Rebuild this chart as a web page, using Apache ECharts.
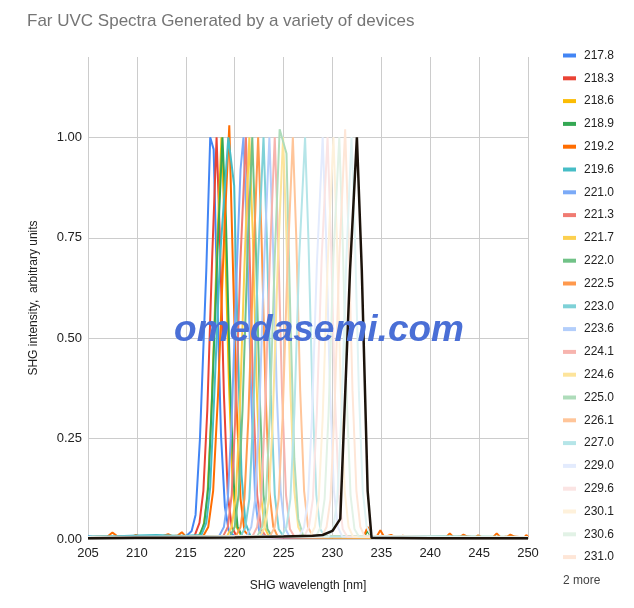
<!DOCTYPE html>
<html>
<head>
<meta charset="utf-8">
<script src="https://cdn.jsdelivr.net/npm/echarts@6/dist/echarts.min.js"></script>
<style>html,body{margin:0;padding:0;background:#fff}#c{width:634px;height:608px}</style>
</head>
<body>
<div id="c"></div>
<script>
var titleText = 'Far UVC Spectra Generated by a variety of devices';
var xName = 'SHG wavelength [nm]';
var yName = 'SHG intensity,  arbitrary units';
var watermark = 'omedasemi.com';
var seriesNames = ['217.8','218.3','218.6','218.9','219.2','219.6','221.0','221.3','221.7','222.0','222.5','223.0','223.6','224.1','224.6','225.0','226.1','227.0','229.0','229.6','230.1','230.6','231.0','231.9','232.5'];
var legendShown = 23;
var palette = ['#4285F4','#EA4335','#FBBC04','#34A853','#FF6D01','#46BDC6','#7BAAF7','#F07B72','#FCD04F','#71C287','#FF994D','#7ED1D7','#B3CEFB','#F7B4AE','#FDE49B','#AEDCBA','#FFC599','#B5E5E8','#E3EBFD','#FBE4E3','#FEF1DB','#E2F2E6','#FEE6D7','#E0F3F4','#1c130b'];

var s217_8 = [[205,0.007],[205.8,0.004],[207,0.005],[209,0.004],[211,0.006],[213,0.005],[215,0.006],[215.6,0.02],[216.0,0.06],[216.45,0.25],[217.1,0.67],[217.5,1.0],[217.85,0.97],[218.2,0.62],[218.6,0.26],[219.0,0.08],[219.4,0.02],[220,0.006],[225,0.004],[230,0.004],[239.3,0.006],[240,0.003],[250,0.003]];
var s218_3 = [[205,0.004],[208,0.005],[211,0.005],[214,0.006],[215.9,0.008],[216.4,0.04],[216.8,0.12],[217.2,0.32],[217.7,0.7],[218.15,1.0],[218.5,0.74],[218.9,0.36],[219.3,0.11],[219.7,0.03],[220.2,0.007],[225,0.004],[235,0.004],[250,0.004]];
var s218_6 = [[205,0.004],[210,0.005],[214,0.005],[216.3,0.007],[216.8,0.03],[217.2,0.1],[217.6,0.3],[218.1,0.66],[218.65,1.0],[219.0,0.76],[219.4,0.4],[219.8,0.13],[220.2,0.03],[220.7,0.006],[230,0.004],[250,0.004]];
var s218_9 = [[205,0.005],[210,0.006],[214,0.006],[216.4,0.008],[216.9,0.04],[217.3,0.13],[217.7,0.36],[218.25,0.72],[218.75,1.0],[219.1,0.8],[219.5,0.42],[219.9,0.14],[220.3,0.03],[220.8,0.006],[233.2,0.005],[233.6,0.02],[234.0,0.004],[250,0.004]];
var s219_2 = [[205,0.005],[207,0.006],[207.5,0.016],[208,0.007],[209.5,0.006],[209.9,0.01],[210.4,0.006],[212.6,0.007],[213.2,0.012],[213.6,0.007],[214.2,0.009],[214.6,0.017],[215.0,0.006],[216.8,0.008],[217.3,0.03],[217.8,0.12],[218.3,0.36],[218.9,0.74],[219.45,1.03],[219.8,0.7],[220.2,0.33],[220.6,0.1],[221.0,0.02],[221.5,0.006],[233.2,0.006],[233.6,0.03],[234.0,0.005],[234.5,0.005],[234.9,0.022],[235.3,0.005],[236.0,0.01],[236.5,0.004],[237.2,0.008],[237.6,0.004],[241.6,0.004],[242.0,0.014],[242.4,0.004],[243.1,0.006],[243.4,0.011],[243.8,0.006],[244.6,0.004],[244.9,0.009],[245.3,0.004],[246.4,0.004],[246.8,0.014],[247.2,0.004],[247.9,0.006],[248.2,0.011],[248.6,0.006],[249.6,0.004],[249.85,0.01],[250,0.005]];
var s219_6 = [[205,0.006],[208,0.007],[210,0.009],[212,0.01],[214,0.008],[215,0.008],[216.6,0.01],[217.1,0.04],[217.5,0.13],[217.9,0.35],[218.5,0.7],[219.35,1.0],[219.95,0.88],[220.3,0.5],[220.7,0.16],[221.1,0.04],[221.6,0.008],[230,0.005],[240,0.005],[250,0.005]];
var s221_0 = [[205,0.005],[212,0.006],[218.4,0.007],[218.9,0.03],[219.3,0.1],[219.7,0.3],[220.2,0.66],[220.6,0.92],[220.9,1.0],[221.3,0.72],[221.7,0.35],[222.1,0.1],[222.5,0.02],[223,0.006],[240,0.006],[250,0.004]];
var s221_3 = [[205,0.004],[218.8,0.006],[219.3,0.03],[219.7,0.11],[220.1,0.32],[220.6,0.7],[221.15,1.0],[221.5,0.74],[221.9,0.36],[222.3,0.11],[222.7,0.025],[223.2,0.006],[250,0.004]];
var s221_7 = [[205,0.004],[219.2,0.006],[219.7,0.03],[220.1,0.1],[220.5,0.3],[221.0,0.68],[221.5,1.0],[221.85,0.76],[222.25,0.38],[222.65,0.12],[223.05,0.03],[223.5,0.006],[250,0.004]];
var s222_0 = [[205,0.005],[219.5,0.006],[220.0,0.03],[220.4,0.11],[220.8,0.32],[221.3,0.7],[221.8,1.0],[222.15,0.74],[222.55,0.36],[222.95,0.11],[223.35,0.025],[223.8,0.006],[250,0.005]];
var s222_5 = [[205,0.004],[220.1,0.006],[220.6,0.03],[221.0,0.1],[221.4,0.3],[221.9,0.68],[222.4,1.0],[222.75,0.75],[223.15,0.37],[223.55,0.12],[223.95,0.03],[224.4,0.006],[250,0.004]];
var s223_0 = [[205,0.005],[220.6,0.006],[221.1,0.03],[221.5,0.1],[221.9,0.31],[222.4,0.7],[222.95,1.0],[223.3,0.74],[223.7,0.36],[224.1,0.11],[224.5,0.025],[225,0.006],[250,0.005]];
var s223_6 = [[205,0.004],[221.2,0.006],[221.7,0.03],[222.1,0.1],[222.5,0.3],[223.0,0.68],[223.55,1.0],[223.9,0.75],[224.3,0.37],[224.7,0.12],[225.1,0.03],[225.6,0.006],[250,0.004]];
var s224_1 = [[205,0.004],[221.8,0.006],[222.3,0.03],[222.7,0.1],[223.1,0.31],[223.6,0.7],[224.1,1.0],[224.45,0.74],[224.85,0.36],[225.25,0.11],[225.65,0.025],[226.1,0.006],[250,0.004]];
var s224_6 = [[205,0.004],[222.6,0.006],[223.1,0.03],[223.5,0.1],[223.9,0.3],[224.4,0.68],[224.95,1.0],[225.3,0.75],[225.7,0.37],[226.1,0.12],[226.5,0.03],[227,0.006],[250,0.004]];
var s225_0 = [[205,0.005],[222.3,0.006],[222.8,0.03],[223.2,0.1],[223.6,0.31],[224.1,0.7],[224.6,1.02],[225.3,0.96],[225.7,0.55],[226.1,0.2],[226.5,0.05],[227,0.008],[250,0.005]];
var s226_1 = [[205,0.004],[223.6,0.006],[224.1,0.03],[224.5,0.1],[224.9,0.3],[225.4,0.68],[225.95,1.0],[226.3,0.75],[226.7,0.37],[227.1,0.12],[227.5,0.03],[228,0.006],[250,0.004]];
var s227_0 = [[205,0.005],[224.8,0.006],[225.3,0.03],[225.7,0.1],[226.1,0.31],[226.6,0.7],[227.2,1.0],[227.55,0.74],[227.95,0.36],[228.35,0.11],[228.75,0.025],[229.2,0.006],[250,0.005]];
var s229_0 = [[205,0.004],[226.6,0.006],[227.1,0.03],[227.5,0.1],[227.9,0.3],[228.4,0.68],[229.0,1.0],[229.35,0.75],[229.75,0.37],[230.15,0.12],[230.55,0.03],[231,0.006],[250,0.004]];
var s229_6 = [[205,0.004],[227.1,0.006],[227.6,0.03],[228.0,0.1],[228.4,0.31],[228.9,0.7],[229.5,1.0],[229.85,0.74],[230.25,0.36],[230.65,0.11],[231.05,0.025],[231.5,0.006],[250,0.004]];
var s230_1 = [[205,0.004],[227.7,0.006],[228.2,0.03],[228.6,0.1],[229.0,0.3],[229.5,0.68],[230.1,1.0],[230.45,0.75],[230.85,0.37],[231.25,0.12],[231.65,0.03],[232.1,0.006],[250,0.004]];
var s230_6 = [[205,0.004],[228.3,0.006],[228.8,0.03],[229.2,0.1],[229.6,0.31],[230.1,0.7],[230.7,1.0],[231.05,0.74],[231.45,0.36],[231.85,0.11],[232.25,0.025],[232.7,0.006],[250,0.004]];
var s231_0 = [[205,0.004],[228.9,0.006],[229.4,0.03],[229.8,0.1],[230.2,0.31],[230.7,0.7],[231.3,1.02],[231.65,0.75],[232.05,0.37],[232.45,0.12],[232.85,0.03],[233.3,0.006],[250,0.004]];
var s231_9 = [[205,0.004],[229.6,0.006],[230.1,0.03],[230.5,0.1],[230.9,0.3],[231.4,0.68],[231.95,1.0],[232.3,0.75],[232.7,0.37],[233.1,0.12],[233.5,0.03],[234,0.006],[250,0.004]];
var s232_5 = [[205,0.002],[210,0.003],[215,0.003],[220,0.004],[225,0.006],[228,0.008],[229,0.01],[230,0.02],[230.8,0.05],[231.8,0.67],[232.5,1.0],[233.0,0.67],[233.6,0.12],[234.0,0.003],[240,0.002],[250,0.002]];

var seriesData = [s217_8,s218_3,s218_6,s218_9,s219_2,s219_6,s221_0,s221_3,s221_7,s222_0,s222_5,s223_0,s223_6,s224_1,s224_6,s225_0,s226_1,s227_0,s229_0,s229_6,s230_1,s230_6,s231_0,s231_9,s232_5];

var FONT = 'Arial, "Liberation Sans", sans-serif';
var series = seriesNames.map(function(n, i){
  var last = i === seriesNames.length - 1;
  return {
    name: n, type: 'line', data: seriesData[i], showSymbol: false, symbol: 'none',
    animation: false, z: 2 + i,
    lineStyle: {width: last ? 2.5 : 2, color: palette[i]},
    itemStyle: {color: palette[i]}
  };
});

var chart = echarts.init(document.getElementById('c'), null, {renderer: 'canvas'});
chart.setOption({
  animation: false,
  backgroundColor: '#fff',
  title: {text: titleText, left: 22, top: 8, textStyle: {fontFamily: FONT, fontSize: 17, fontWeight: 'normal', color: '#757575'}},
  grid: {left: 88, right: 106, top: 57, bottom: 69, containLabel: false},
  legend: {
    data: seriesNames.slice(0, legendShown), orient: 'vertical', left: 563, top: 49,
    itemWidth: 13, itemHeight: 4, itemGap: 9.8, icon: 'rect', selectedMode: false, padding: 0,
    textStyle: {fontFamily: FONT, fontSize: 12, color: '#222', lineHeight: 13, padding: [0,0,0,3]}
  },
  xAxis: {
    type: 'value', min: 205, max: 250, interval: 5,
    name: xName, nameLocation: 'middle', nameGap: 41,
    nameTextStyle: {fontFamily: FONT, fontSize: 12, color: '#222'},
    axisLine: {show: false}, axisTick: {show: false},
    axisLabel: {fontFamily: FONT, fontSize: 13, color: '#222', margin: 8},
    splitLine: {show: true, lineStyle: {color: '#cccccc', width: 1}}
  },
  yAxis: {
    type: 'value', min: 0, max: 1.2, interval: 0.25,
    name: yName, nameLocation: 'middle', nameGap: 48, nameRotate: 90,
    nameTextStyle: {fontFamily: FONT, fontSize: 12, color: '#222'},
    axisLine: {show: false}, axisTick: {show: false},
    axisLabel: {fontFamily: FONT, fontSize: 13, color: '#222', margin: 6, showMaxLabel: false,
      formatter: function(v){ return v > 1.001 ? '' : v.toFixed(2); }},
    splitLine: {show: true, showMaxLine: false, lineStyle: {color: '#cccccc', width: 1}}
  },
  graphic: [
    {type: 'text', left: 563, top: 575, style: {text: '2 more', font: '12px ' + FONT, fill: '#444'}},
    {type: 'text', x: 319, y: 331, z: 100, style: {text: watermark, font: 'italic bold 37px ' + FONT, fill: '#4a6fd6', align: 'center', verticalAlign: 'middle'}}
  ],
  series: series
});
</script>
</body>
</html>
